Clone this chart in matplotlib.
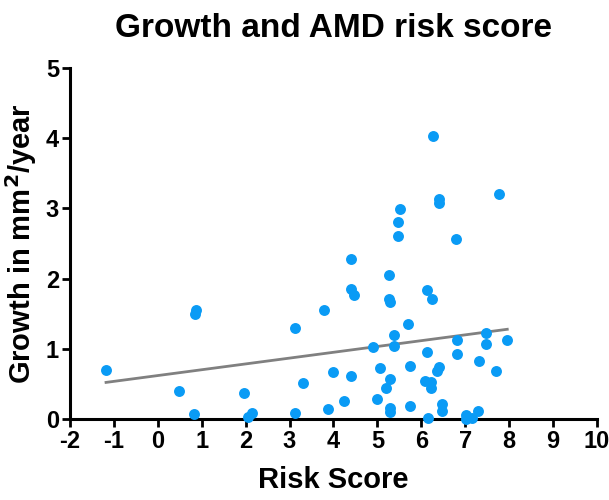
import matplotlib
matplotlib.use("Agg")
import matplotlib.pyplot as plt

plt.rcParams['font.family'] = ['Liberation Sans', 'DejaVu Sans']
plt.rcParams['font.weight'] = 'bold'
plt.rcParams['axes.unicode_minus'] = False

# risk score vs growth (mm^2/year)
risk_score = [-1.18, 0.48, 0.83, 0.85, 0.87, 1.96, 2.06, 2.15, 3.13, 3.13,
              3.30, 3.79, 3.87, 3.99, 4.24, 4.40, 4.40, 4.46, 4.40, 4.90,
              4.99, 5.07, 5.20, 5.26, 5.26, 5.30, 5.30, 5.28, 5.28, 5.39,
              5.39, 5.47, 5.47, 5.52, 5.70, 5.74, 5.74, 6.09, 6.13, 6.13,
              6.15, 6.22, 6.22, 6.25, 6.27, 6.35, 6.40, 6.40, 6.41, 6.48,
              6.48, 6.79, 6.82, 6.82, 7.02, 7.02, 7.16, 7.30, 7.32, 7.47,
              7.47, 7.71, 7.77, 7.96]
growth = [0.70, 0.40, 0.07, 1.50, 1.55, 0.37, 0.03, 0.09, 1.30, 0.09,
          0.51, 1.55, 0.14, 0.67, 0.26, 2.28, 1.85, 1.77, 0.61, 1.02,
          0.28, 0.73, 0.44, 2.05, 1.71, 1.66, 0.57, 0.16, 0.10, 1.20,
          1.04, 2.80, 2.60, 2.99, 1.35, 0.76, 0.18, 0.54, 1.84, 0.96,
          0.01, 0.52, 0.44, 1.71, 4.03, 0.68, 3.14, 3.08, 0.74, 0.22,
          0.11, 2.56, 1.12, 0.92, 0.06, 0.00, 0.02, 0.11, 0.82, 1.23,
          1.07, 0.69, 3.21, 1.13]

# linear fit line as drawn in the reference
fit_slope = 0.0828
fit_intercept = 0.619
fit_x = [min(risk_score), max(risk_score)]

x_ticks = list(range(-2, 11))
y_ticks = list(range(0, 6))

fig = plt.figure(figsize=(6.09, 5.0), dpi=100)
ax = fig.add_axes([0.115, 0.162, 0.865, 0.702])

ax.plot(fit_x, [fit_intercept + fit_slope * v for v in fit_x],
        color='#808080', lw=2.0, zorder=2)
ax.scatter(risk_score, growth, s=62, color='#0a9bf5', linewidths=0,
           zorder=4, clip_on=False)

ax.set_xlim(-2, 10)
ax.set_ylim(0, 5)
ax.set_xticks(x_ticks)
ax.set_yticks(y_ticks)

for side in ['top', 'right']:
    ax.spines[side].set_visible(False)
for side in ['left', 'bottom']:
    ax.spines[side].set_linewidth(2.2)
ax.tick_params(axis='both', direction='out', length=6, width=2,
               labelsize=17, pad=2)
for lab in ax.get_xticklabels() + ax.get_yticklabels():
    lab.set_fontweight('bold')

ax.set_xlabel('Risk Score', fontsize=21, fontweight='bold', labelpad=9)
ax.set_ylabel('Growth in mm$^\\mathbf{2}$/year', fontsize=21,
              fontweight='bold', labelpad=5)
ax.set_title('Growth and AMD risk score', fontsize=24, fontweight='bold',
             pad=22)

fig.savefig('out.png', dpi=100)
